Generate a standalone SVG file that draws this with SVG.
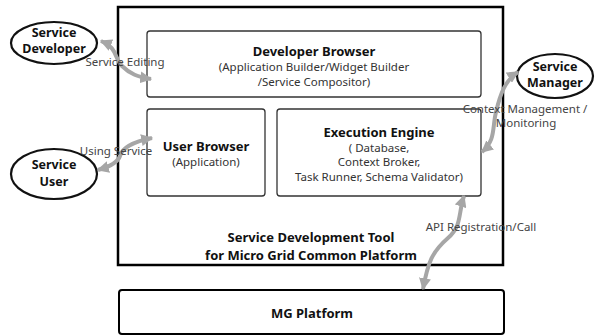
<svg xmlns="http://www.w3.org/2000/svg" width="604" height="336" viewBox="0 0 604 336">
<style>
text{font-family:"Noto Sans","Open Sans","Liberation Sans",sans-serif;fill:#111;text-anchor:middle}
.b{font-weight:bold;font-size:13px}
.e{font-weight:bold;font-size:12.5px}
.s{font-size:11.5px;fill:#333}
.l{font-size:11.5px;fill:#444}
.box{fill:#fff;stroke:#333;stroke-width:1.3}
.ell{fill:#fff;stroke:#111;stroke-width:2.2}
.arr{fill:none;stroke:#a6a6a6;stroke-width:4;marker-start:url(#ah);marker-end:url(#ah)}
</style>
<defs>
<marker id="ah" markerUnits="userSpaceOnUse" viewBox="0 0 10 10" refX="9" refY="5" markerWidth="12" markerHeight="12" orient="auto-start-reverse">
<path d="M0,0 L10,5 L0,10 z" fill="#a6a6a6"/>
</marker>
</defs>
<rect width="604" height="336" fill="#fff"/>
<g id="tool">
<rect x="118" y="7" width="385" height="258" fill="#fff" stroke="#000" stroke-width="2.5"/>
<text class="b" x="311" y="242">Service Development Tool</text>
<text class="b" x="311" y="260">for Micro Grid Common Platform</text>
</g>
<g id="devbrowser">
<rect class="box" x="147" y="31" width="334" height="66" rx="3"/>
<text class="b" x="314" y="56">Developer Browser</text>
<text class="s" x="314" y="71">(Application Builder/Widget Builder</text>
<text class="s" x="314" y="86">/Service Compositor)</text>
</g>
<g id="userbrowser">
<rect class="box" x="147" y="109" width="118" height="87" rx="3"/>
<text class="b" x="206" y="151">User Browser</text>
<text class="s" x="206" y="166">(Application)</text>
</g>
<g id="engine">
<rect class="box" x="277" y="109" width="204" height="87" rx="3"/>
<text class="b" x="379" y="137">Execution Engine</text>
<text class="s" x="379" y="152">( Database,</text>
<text class="s" x="379" y="166">Context Broker,</text>
<text class="s" x="379" y="181">Task Runner, Schema Validator)</text>
</g>
<g id="mg">
<rect x="119" y="290" width="385" height="44" rx="3" fill="#fff" stroke="#000" stroke-width="2"/>
<text class="b" x="312" y="318">MG Platform</text>
</g>
<g id="devnode">
<ellipse class="ell" cx="54" cy="43" rx="43" ry="21"/>
<text class="e" x="54" y="37">Service</text>
<text class="e" x="54" y="53">Developer</text>
</g>
<g id="usernode">
<ellipse class="ell" cx="54" cy="174" rx="43" ry="25"/>
<text class="e" x="54" y="169">Service</text>
<text class="e" x="54" y="186">User</text>
</g>
<g id="mgrnode">
<ellipse class="ell" cx="555" cy="76" rx="38" ry="22"/>
<text class="e" x="555" y="71">Service</text>
<text class="e" x="555" y="87">Manager</text>
</g>
<g id="connectors">
<path class="arr" d="M101,41 C118,48 114,58 122,66 C130,74 138,77 151,79"/>
<path class="arr" d="M98,170 C112,166 118,162 120,156 C122,148 132,142 152,138"/>
<path class="arr" d="M482,152 C496,140 492,128 496,112 C500,95 505,80 518,72"/>
<path class="arr" d="M464,196 C458,214 462,226 448,238 C432,252 428,262 423,289"/>
<text class="l" x="125" y="66">Service Editing</text>
<text class="l" x="116" y="155">Using Service</text>
<text class="l" x="525" y="113">Context Management /</text>
<text class="l" x="526" y="127">Monitoring</text>
<text class="l" x="481" y="231">API Registration/Call</text>
</g>
</svg>
